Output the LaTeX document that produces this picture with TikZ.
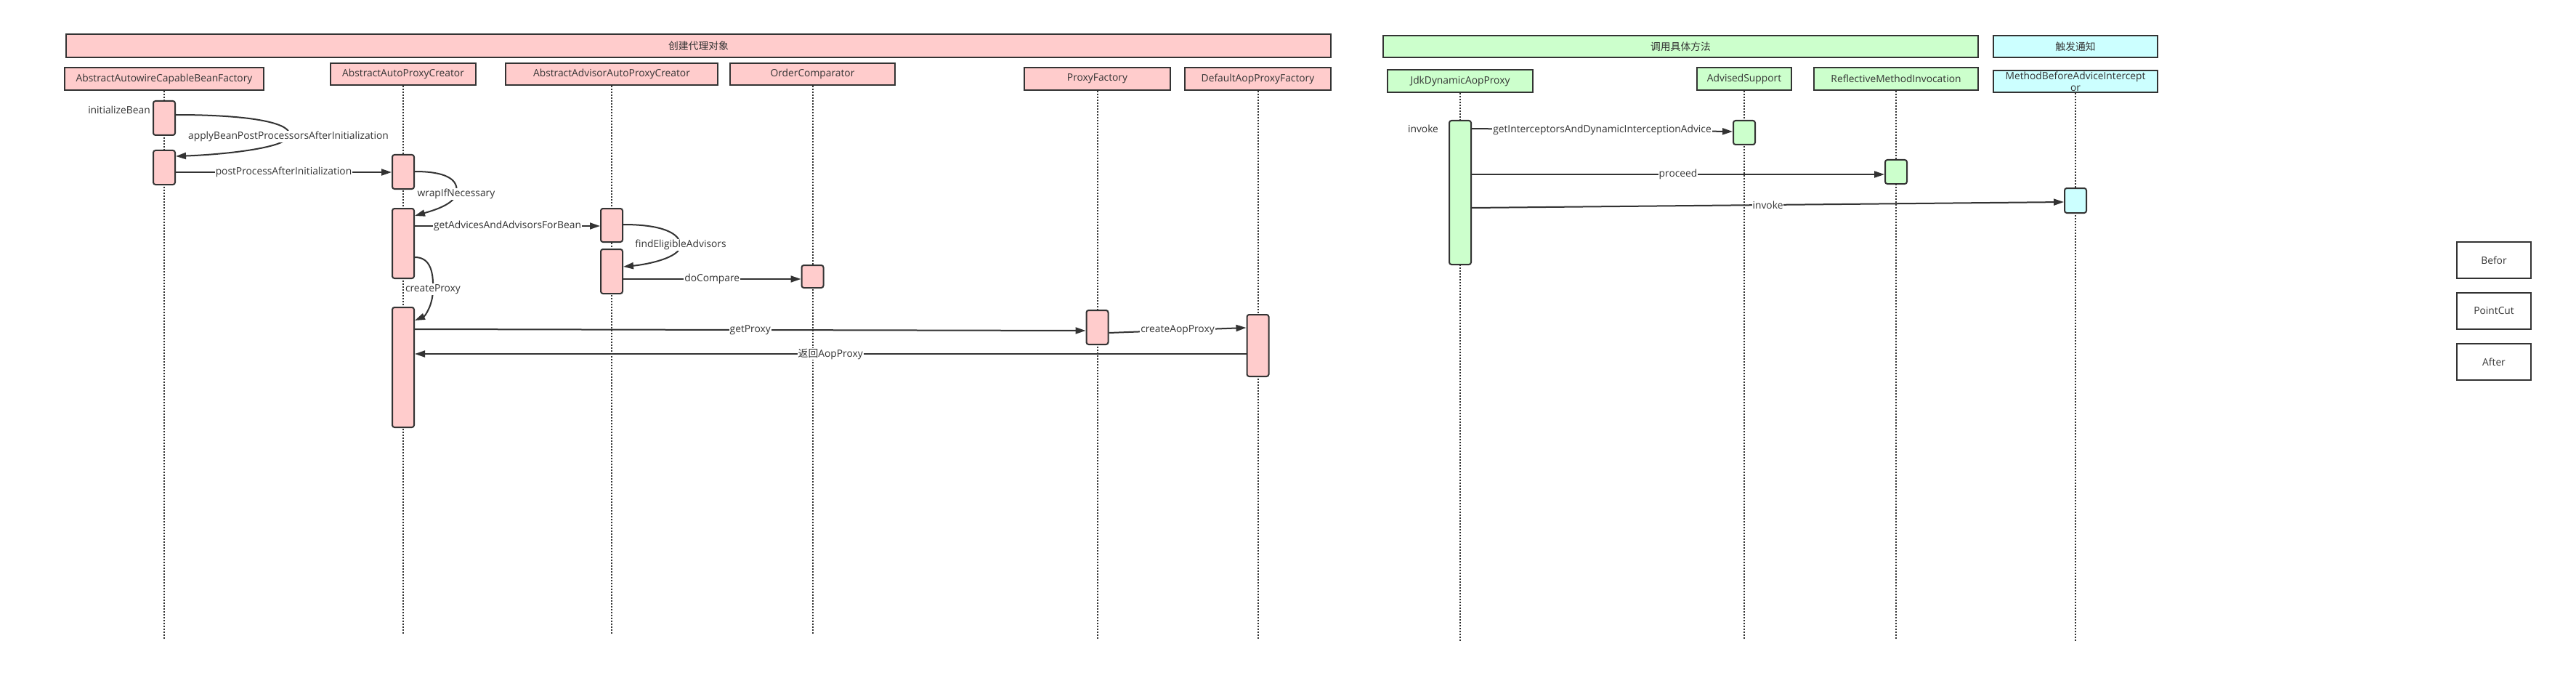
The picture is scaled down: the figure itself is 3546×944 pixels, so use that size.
\documentclass[tikz,border=0pt]{standalone}
\usepackage{fontspec}
\setmainfont{Open Sans}
\newfontfamily\cjk{Noto Sans CJK SC}
\usetikzlibrary{arrows.meta,calc}
\definecolor{pinkf}{HTML}{FFCCCC}
\definecolor{greenf}{HTML}{CCFFCC}
\definecolor{cyanf}{HTML}{CCFFFF}
\definecolor{ink}{HTML}{333333}
\begin{document}
\begin{tikzpicture}[x=1pt,y=-1pt,
  every node/.style={font=\fontsize{13.8}{16}\selectfont, text=ink},
  hdr/.style={draw=ink, line width=2pt, inner sep=0pt},
  act/.style={draw=ink, line width=2pt, rounded corners=3pt, inner sep=0pt, minimum width=30pt},
  life/.style={draw=ink, line width=2pt, dash pattern=on 2pt off 2pt},
  msg/.style={draw=ink, line width=2pt, -{Triangle[length=14pt,width=9pt]}},
  lbl/.style={fill=white, inner sep=1pt},
  legendbox/.style={draw=ink, line width=2pt, fill=white, minimum width=102pt, minimum height=50pt, inner sep=0pt}
]
\fill[white] (0,0) rectangle (3546,944);
\useasboundingbox (0,0) rectangle (3546,944);

% banners
\node[hdr, fill=pinkf, minimum width=1741pt, minimum height=32pt] (bn1) at (961.5,63) {\cjk 创建代理对象};
\node[hdr, fill=greenf, minimum width=819pt, minimum height=30pt] (bn2) at (2313.5,64) {\cjk 调用具体方法};
\node[hdr, fill=cyanf, minimum width=226pt, minimum height=30pt] (bn3) at (2857,64) {\cjk 触发通知};

% headers
\node[hdr, fill=pinkf, minimum width=274pt, minimum height=31pt] (aacbf) at (226,108.5) {AbstractAutowireCapableBeanFactory};
\node[hdr, fill=pinkf, minimum width=200pt, minimum height=30pt] (aapc) at (555,102) {AbstractAutoProxyCreator};
\node[hdr, fill=pinkf, minimum width=292pt, minimum height=30pt] (aaapc) at (842,102) {AbstractAdvisorAutoProxyCreator};
\node[hdr, fill=pinkf, minimum width=227pt, minimum height=30pt] (oc) at (1118.5,102) {OrderComparator};
\node[hdr, fill=pinkf, minimum width=201pt, minimum height=31pt] (pf) at (1510.5,108.5) {ProxyFactory};
\node[hdr, fill=pinkf, minimum width=201pt, minimum height=31pt] (dapf) at (1731.5,108.5) {DefaultAopProxyFactory};
\node[hdr, fill=greenf, minimum width=200pt, minimum height=31pt] (jdk) at (2010,111.5) {JdkDynamicAopProxy};
\node[hdr, fill=greenf, minimum width=130pt, minimum height=31pt] (as) at (2401,108.5) {AdvisedSupport};
\node[hdr, fill=greenf, minimum width=226pt, minimum height=31pt] (refl) at (2610,108.5) {ReflectiveMethodInvocation};
\node[hdr, fill=cyanf, minimum width=226pt, minimum height=30pt, align=center, font=\fontsize{13.8}{16}\selectfont] (mbai) at (2857,112) {MethodBeforeAdviceIntercept\\or};

% lifeline ends
\coordinate (e1) at (226,880);
\coordinate (e2) at (555,873);
\coordinate (e3) at (842,873);
\coordinate (e4) at (1118.5,873);
\coordinate (e5) at (1510.5,880);
\coordinate (e6) at (1731.5,880);
\coordinate (e7) at (2010,883);
\coordinate (e8) at (2401,880);
\coordinate (e9) at (2610,880);
\coordinate (e10) at (2857,883);

\draw[life] (aacbf.south) -- (e1);
\draw[life] (aapc.south) -- (e2);
\draw[life] (aaapc.south) -- (e3);
\draw[life] (oc.south) -- (e4);
\draw[life] (pf.south) -- (e5);
\draw[life] (dapf.south) -- (e6);
\draw[life] (jdk.south) -- (e7);
\draw[life] (as.south) -- (e8);
\draw[life] (refl.south) -- (e9);
\draw[life] (mbai.south) -- (e10);

% activations
\node[act, fill=pinkf, minimum height=47pt] (A1) at (226,162.5) {};
\node[act, fill=pinkf, minimum height=47pt] (A2) at (226,230.5) {};
\node[act, fill=pinkf, minimum height=47pt] (B1) at (555,236.5) {};
\node[act, fill=pinkf, minimum height=96pt] (B2) at (555,335) {};
\node[act, fill=pinkf, minimum height=165pt] (B3) at (555,505.5) {};
\node[act, fill=pinkf, minimum height=46pt] (C1) at (842,310) {};
\node[act, fill=pinkf, minimum height=61pt] (C2) at (842,373.5) {};
\node[act, fill=pinkf, minimum height=31pt] (D1) at (1118.5,380.5) {};
\node[act, fill=pinkf, minimum height=47pt] (E1) at (1510.5,450.5) {};
\node[act, fill=pinkf, minimum height=85pt] (F1) at (1731.5,475.5) {};
\node[act, fill=greenf, minimum height=198pt] (G1) at (2010,265) {};
\node[act, fill=greenf, minimum height=33pt] (H1) at (2401,182.5) {};
\node[act, fill=greenf, minimum height=33pt] (I1) at (2610,236.5) {};
\node[act, fill=cyanf, minimum height=34pt] (J1) at (2857,276) {};

% free labels
\node (tInit) at (164,151) {initializeBean};
\node (tInv) at (1959,177) {invoke};

% self calls
\draw[msg] (A1.east |- 0,158) .. controls (350,158) and (405,170) .. (398,188) .. controls (390,205) and (300,213) .. (A2.east |- 0,215);
\node[lbl] (l1) at (397,188) {applyBeanPostProcessorsAfterInitialization};

\draw[msg] (B1.east |- 0,236) .. controls (610,236) and (633,245) .. (628,267) .. controls (624,282) and (595,290) .. (B2.east |- 0,297);
\node[lbl] (l2) at (628,267) {wrapIfNecessary};

\draw[msg] (C1.east |- 0,309) .. controls (910,309) and (935,320) .. (937,337) .. controls (937,355) and (890,364) .. (C2.east |- 0,367);
\node[lbl] (l3) at (937,337) {findEligibleAdvisors};

\draw[msg] (B2.east |- 0,354) .. controls (590,354) and (597,370) .. (596,398) .. controls (596,420) and (585,435) .. (B3.east |- 0,441);
\node[lbl] (l4) at (596,398) {createProxy};

% straight messages
\draw[msg] (A2.east |- 0,237) -- node[lbl] (l5) {postProcessAfterInitialization} (B1.west |- 0,237);
\draw[msg] (B2.east |- 0,311) -- node[lbl] (l6) {getAdvicesAndAdvisorsForBean} (C1.west |- 0,311);
\draw[msg] (C2.east |- 0,384) -- node[lbl] (l7) {doCompare} (D1.west |- 0,384);
\draw[msg] (B3.east |- 0,453) -- node[lbl] (l8) {getProxy} (E1.west |- 0,455);
\draw[msg] (E1.east |- 0,458) -- node[lbl] (l9) {createAopProxy} (F1.west |- 0,451);
\draw[msg] (F1.west |- 0,487) -- node[lbl] (l10) {{\cjk 返回}AopProxy} (B3.east |- 0,487);
\draw[msg] (G1.east |- 0,177) -- node[lbl] (l11) {getInterceptorsAndDynamicInterceptionAdvice} (H1.west |- 0,181);
\draw[msg] (G1.east |- 0,240) -- node[lbl] (l12) {proceed} (I1.west |- 0,240);
\draw[msg] (G1.east |- 0,286) -- node[lbl] (l13) {invoke} (J1.west |- 0,278);

% legend
\node[legendbox] (lg1) at (3433,358) {Befor};
\node[legendbox] (lg2) at (3433,428) {PointCut};
\node[legendbox] (lg3) at (3433,498) {After};
\end{tikzpicture}
\end{document}
